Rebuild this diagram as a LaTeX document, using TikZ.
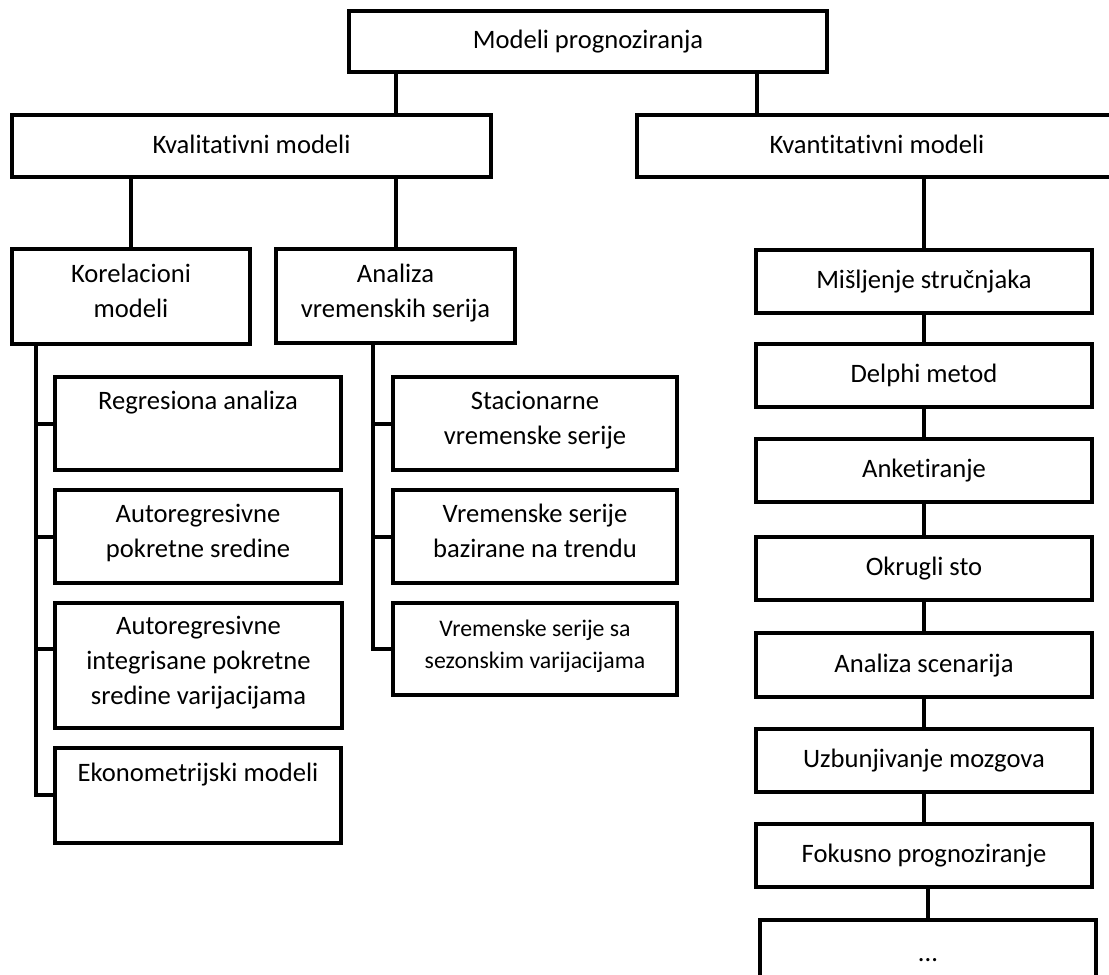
\documentclass[tikz,border=0pt]{standalone}
\usepackage{fontspec}
\setmainfont{Carlito}[Ligatures={NoCommon}]
\usetikzlibrary{calc}
\tikzset{
  box/.style={draw, line width=2pt, fill=white, align=center, inner sep=0pt,
    font=\fontsize{13.3pt}{17.5pt}\selectfont,
    execute at begin node=\strut, execute at end node=\strut},
  small/.style={font=\fontsize{11.9pt}{16pt}\selectfont},
  sz/.style n args={2}{minimum width=#1*0.5pt, minimum height=#2*0.5pt},
  link/.style={line width=2pt}
}
\begin{document}
\begin{tikzpicture}[x=0.5pt,y=-0.5pt]
\useasboundingbox (0,0) rectangle (1109,975);
\clip (0,0) rectangle (1109,975);

% top levels
\node[box, sz={478}{61}] (root) at (588,41) {Modeli prognoziranja};
\node[box, sz={479}{62}] (qual) at (251.5,146) {Kvalitativni modeli};
\node[box, sz={480}{62}] (quant) at (877,146) {Kvantitativni modeli};

% qualitative branch heads
\node[box, sz={238}{95}] (corr) at (131,296.5) {Korelacioni\\modeli};
\node[box, sz={239}{94}] (ts) at (395.5,296) {Analiza\\vremenskih serija};

% correlation models
\node[box, sz={286}{93}] (reg) at (198,423.5) {Regresiona analiza\\ \mbox{}};
\node[box, sz={286}{93}] (arma) at (198,536.5) {Autoregresivne\\pokretne sredine};
\node[box, sz={287}{125}] (arima) at (198.5,665.5) {Autoregresivne\\integrisane pokretne\\sredine varijacijama};
\node[box, sz={286}{95}] (eco) at (198,795) {Ekonometrijski modeli\\ \mbox{}};

% time series
\node[box, sz={284}{93}] (stat) at (535,423.5) {Stacionarne\\vremenske serije};
\node[box, sz={284}{93}] (trend) at (535,536.5) {Vremenske serije\\bazirane na trendu};
\node[box, small, sz={284}{92}] (seas) at (535,649) {Vremenske serije sa\\sezonskim varijacijama};

% quantitative chain
\node[box, sz={336}{62.5}] (q1) at (924,281.25) {Mišljenje stručnjaka};
\node[box, sz={336}{62.5}] (q2) at (924,375.5) {Delphi metod};
\node[box, sz={336}{62.5}] (q3) at (924,470.25) {Anketiranje};
\node[box, sz={336}{63}] (q4) at (924,568.5) {Okrugli sto};
\node[box, sz={336}{64}] (q5) at (924,665) {Analiza scenarija};
\node[box, sz={336}{63}] (q6) at (924,760.5) {Uzbunjivanje mozgova};
\node[box, sz={336}{62.5}] (q7) at (924,855.25) {Fokusno prognoziranje};
\node[box, sz={336}{68}] (q8) at (928,954) {...};

% connectors between levels
\coordinate (rootL) at (396,0);
\coordinate (rootR) at (757,0);
\draw[link] (root.south -| rootL) -- (qual.north -| rootL);
\draw[link] (root.south -| rootR) -- (quant.north -| rootR);
\draw[link] (corr.north) -- (corr.north |- qual.south);
\draw[link] (ts.north) -- (ts.north |- qual.south);
\draw[link] (q1.north) -- (q1.north |- quant.south);

% quantitative chain links
\draw[link] (q1.south) -- (q2.north);
\draw[link] (q2.south) -- (q3.north);
\draw[link] (q3.south) -- (q4.north);
\draw[link] (q4.south) -- (q5.north);
\draw[link] (q5.south) -- (q6.north);
\draw[link] (q6.south) -- (q7.north);
\draw[link] (q8.north) -- (q8.north |- q7.south);

% left trunk (correlation models)
\coordinate (lt) at (36,0);
\coordinate (arimaT) at (0,649);
\draw[link] (corr.south -| lt) -- (lt |- eco.west) -- (eco.west);
\draw[link] (lt |- reg.west) -- (reg.west);
\draw[link] (lt |- arma.west) -- (arma.west);
\draw[link] (lt |- arimaT) -- (arima.west |- arimaT);

% right trunk (time series)
\coordinate (rt) at (372.5,0);
\draw[link] (ts.south -| rt) -- (rt |- seas.west) -- (seas.west);
\draw[link] (rt |- stat.west) -- (stat.west);
\draw[link] (rt |- trend.west) -- (trend.west);
\end{tikzpicture}
\end{document}
